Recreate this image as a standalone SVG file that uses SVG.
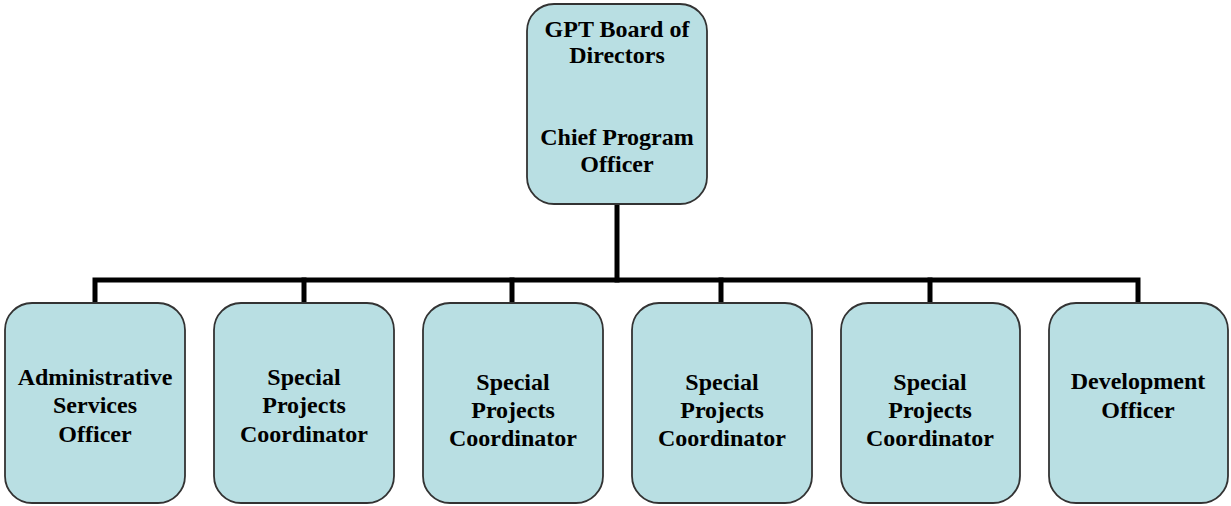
<svg xmlns="http://www.w3.org/2000/svg" width="1231" height="506" viewBox="0 0 1231 506">
<style>
.box{fill:#b9dfe3;stroke:#333;stroke-width:1.8}
.t{font-family:"Liberation Serif","Times New Roman",serif;font-weight:bold;font-size:24px;fill:#000;text-anchor:middle}
.c{fill:none;stroke:#000;stroke-width:5;stroke-linejoin:miter;stroke-linecap:square}
</style>
<rect width="1231" height="506" fill="#fff"/>
<g id="connectors">
<path class="c" d="M617 204 V280"/>
<path class="c" d="M95 303 V280 H1138 V303"/>
<path class="c" d="M304 280 V303 M512 280 V303 M721 280 V303 M930 280 V303"/>
</g>
<g id="n0">
<rect class="box" x="527" y="4" width="180" height="200" rx="27"/>
<text class="t" x="617" y="37">GPT Board of</text>
<text class="t" x="617" y="63">Directors</text>
<text class="t" x="617" y="145">Chief Program</text>
<text class="t" x="617" y="172">Officer</text>
</g>
<g id="n1">
<rect class="box" x="5" y="303" width="180" height="200" rx="27"/>
<text class="t" x="95" y="385">Administrative</text>
<text class="t" x="95" y="413">Services</text>
<text class="t" x="95" y="442">Officer</text>
</g>
<g id="n2">
<rect class="box" x="214" y="303" width="180" height="200" rx="27"/>
<text class="t" x="304" y="385">Special</text>
<text class="t" x="304" y="413">Projects</text>
<text class="t" x="304" y="442">Coordinator</text>
</g>
<g id="n3">
<rect class="box" x="423" y="303" width="180" height="200" rx="27"/>
<text class="t" x="513" y="390">Special</text>
<text class="t" x="513" y="418">Projects</text>
<text class="t" x="513" y="446">Coordinator</text>
</g>
<g id="n4">
<rect class="box" x="632" y="303" width="180" height="200" rx="27"/>
<text class="t" x="722" y="390">Special</text>
<text class="t" x="722" y="418">Projects</text>
<text class="t" x="722" y="446">Coordinator</text>
</g>
<g id="n5">
<rect class="box" x="841" y="303" width="179" height="200" rx="27"/>
<text class="t" x="930" y="390">Special</text>
<text class="t" x="930" y="418">Projects</text>
<text class="t" x="930" y="446">Coordinator</text>
</g>
<g id="n6">
<rect class="box" x="1049" y="303" width="179" height="200" rx="27"/>
<text class="t" x="1138" y="389">Development</text>
<text class="t" x="1138" y="418">Officer</text>
</g>
</svg>
